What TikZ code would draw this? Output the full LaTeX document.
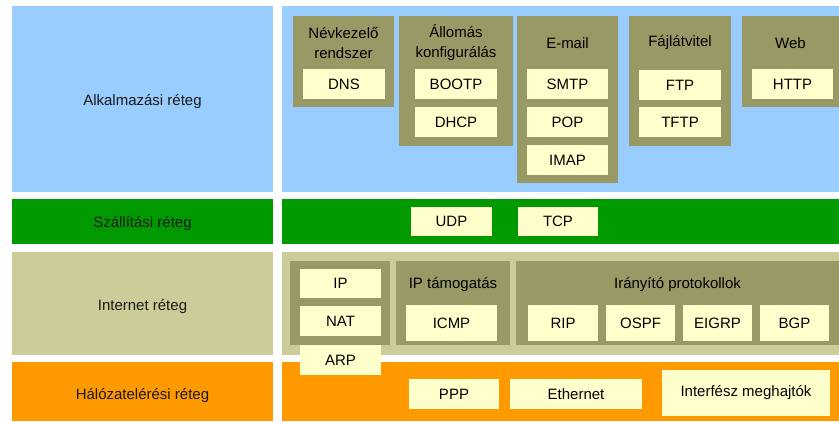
\documentclass[tikz,border=0pt]{standalone}
\usepackage{fontspec}
\setmainfont{Liberation Sans}
\usetikzlibrary{positioning}
\definecolor{appblue}{HTML}{99CCFF}
\definecolor{trgreen}{HTML}{009900}
\definecolor{netkhaki}{HTML}{CCCC99}
\definecolor{linkorange}{HTML}{FF9900}
\definecolor{grpolive}{HTML}{999966}
\definecolor{protocream}{HTML}{FFFFCC}

\begin{document}
\begin{tikzpicture}[
    x=1pt, y=-1pt,
    node distance=8pt,
    every node/.style={font=\fontsize{15}{20}\selectfont, inner sep=0, outer sep=0},
    layer/.style={anchor=north west},
    lbl/.style={text=black!90},
    grp/.style={anchor=north west, fill=grpolive},
    grptitle/.style={align=center},
    proto/.style={anchor=north west, fill=protocream, minimum height=30}
  ]
    \useasboundingbox (0,0) rectangle (839,421);
    % layers
    \node[layer, fill=appblue, minimum width=261, minimum height=186] (appleft) at (12,6) {};
    \node[layer, fill=appblue, minimum width=557, minimum height=186] (app) at (282,6) {};
    \node[layer, fill=trgreen, minimum width=261, minimum height=45] (trleft) at (12,199) {};
    \node[layer, fill=trgreen, minimum width=557, minimum height=45] (tr) at (282,199) {};
    \node[layer, fill=netkhaki, minimum width=261, minimum height=103] (netleft) at (12,252) {};
    \node[layer, fill=netkhaki, minimum width=557, minimum height=103] (net) at (282,252) {};
    \node[layer, fill=linkorange, minimum width=261, minimum height=59] (linkleft) at (12,362) {};
    \node[layer, fill=linkorange, minimum width=557, minimum height=59] (link) at (282,362) {};

    \node[lbl] (applbl) at ([yshift=-3]appleft.center) {Alkalmazási réteg};
    \node[lbl] (trlbl) at ([yshift=-2]trleft.center) {Szállítási réteg};
    \node[lbl] (netlbl) at ([yshift=-3]netleft.center) {Internet réteg};
    \node[lbl] (linklbl) at ([yshift=-4]linkleft.center) {Hálózatelérési réteg};

    % application layer
    \node[grp, minimum width=101, minimum height=91] (dnsgrp) at (293,16) {};
    \node[grptitle] at ([yshift=-27]dnsgrp.north) {Névkezelő\\rendszer};
    \node[proto, minimum width=82] (dns) at (303,69) {DNS};

    \node[grp, minimum width=114, minimum height=130] (cfggrp) at (399,16) {};
    \node[grptitle] at ([yshift=-27]cfggrp.north) {Állomás\\konfigurálás};
    \node[proto, minimum width=82] (bootp) at (415,69) {BOOTP};
    \node[proto, minimum width=82, below=of bootp] (dhcp) {DHCP};

    \node[grp, minimum width=101, minimum height=167] (mailgrp) at (517,16) {};
    \node[grptitle] at ([yshift=-27]mailgrp.north) {E-mail};
    \node[proto, minimum width=81] (smtp) at (527,69) {SMTP};
    \node[proto, minimum width=81, below=of smtp] (pop) {POP};
    \node[proto, minimum width=81, below=of pop] (imap) {IMAP};

    \node[grp, minimum width=102, minimum height=130] (ftpgrp) at (629,16) {};
    \node[grptitle] at ([yshift=-27]ftpgrp.north) {Fájlátvitel};
    \node[proto, minimum width=82] (ftp) at (639,70) {FTP};
    \node[proto, minimum width=82, below=7pt of ftp] (tftp) {TFTP};

    \node[grp, minimum width=97, minimum height=91] (webgrp) at (742,16) {};
    \node[grptitle] at ([yshift=-27]webgrp.north) {Web};
    \node[proto, minimum width=81] (http) at (752,69) {HTTP};

    % transport layer
    \node[proto, minimum width=81, minimum height=29] (udp) at (411,207) {UDP};
    \node[proto, minimum width=80, minimum height=29] (tcp) at (518,207) {TCP};

    % internet layer
    \node[grp, minimum width=100, minimum height=84] (ipgrp) at (290,261) {};
    \node[proto, minimum width=81, minimum height=29] (ip) at (300,269) {IP};
    \node[proto, minimum width=81, below=of ip] (nat) {NAT};
    \node[proto, minimum width=81] (arp) at (300,345) {ARP};

    \node[grp, minimum width=114, minimum height=84] (suppgrp) at (396,261) {};
    \node[grptitle] at ([yshift=-24]suppgrp.north) {IP támogatás};
    \node[proto, minimum width=91, minimum height=36] (icmp) at (406,305) {ICMP};

    \node[grp, minimum width=323, minimum height=84] (routgrp) at (516,261) {};
    \node[grptitle] at ([yshift=-24]routgrp.north) {Irányító protokollok};
    \node[proto, minimum width=70, minimum height=36] (rip) at (528,305) {RIP};
    \node[proto, minimum width=69, minimum height=36, right=of rip] (ospf) {OSPF};
    \node[proto, minimum width=69, minimum height=36, right=of ospf] (eigrp) {EIGRP};
    \node[proto, minimum width=69, minimum height=36, right=of eigrp] (bgp) {BGP};

    % network access layer
    \node[proto, minimum width=90] (ppp) at (409,379) {PPP};
    \node[proto, minimum width=132] (eth) at (510,379) {Ethernet};
    \node[proto, minimum width=168, minimum height=46] (drv) at (662,370) {Interfész meghajtók};
\end{tikzpicture}
\end{document}
